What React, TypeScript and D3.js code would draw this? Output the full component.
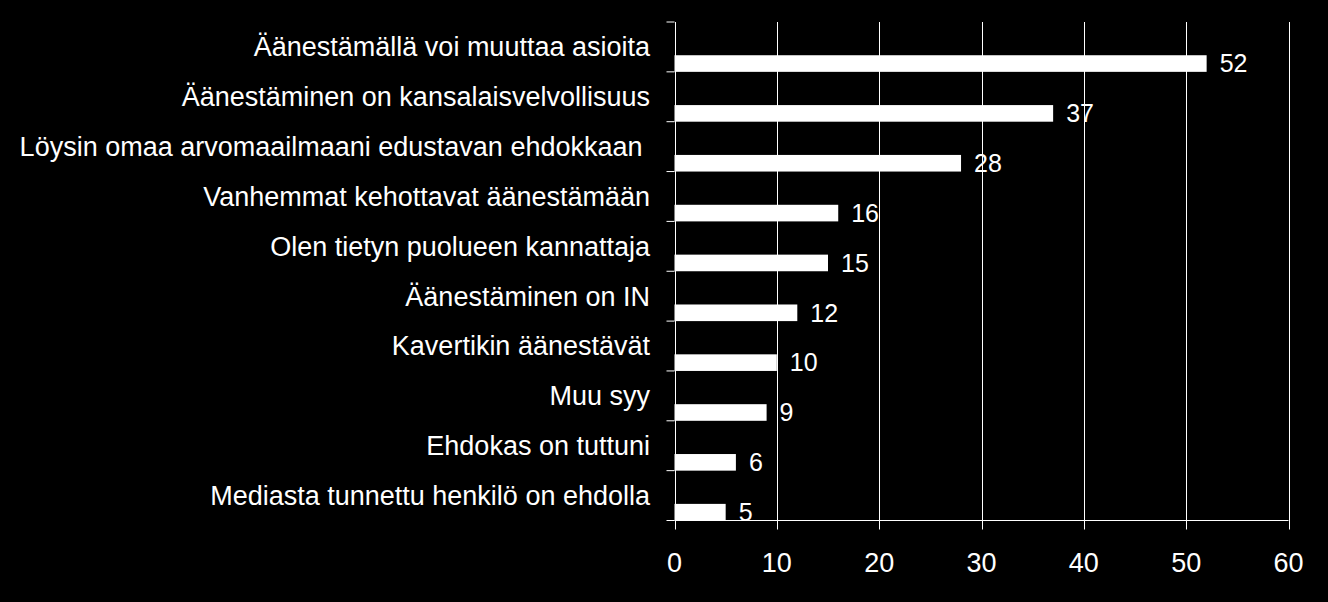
import React from "react";
import * as d3 from "d3";

const categories = [
  "Äänestämällä voi muuttaa asioita",
  "Äänestäminen on kansalaisvelvollisuus",
  "Löysin omaa arvomaailmaani edustavan ehdokkaan\u00a0",
  "Vanhemmat kehottavat äänestämään",
  "Olen tietyn puolueen kannattaja",
  "Äänestäminen on IN",
  "Kavertikin äänestävät",
  "Muu syy",
  "Ehdokas on tuttuni",
  "Mediasta tunnettu henkilö on ehdolla",
];
const values = [52, 37, 28, 16, 15, 12, 10, 9, 6, 5];
const xTicks = [0, 10, 20, 30, 40, 50, 60];

const W = 1328;
const H = 602;
const left = 674.5;
const right = 1288.5;
const top = 22;
const bottom = 520.5;
const FONT = "'Liberation Sans', Arial, sans-serif";

export default function App() {
  const x = d3.scaleLinear().domain([0, 60]).range([left, right]);
  const y = d3.scaleBand<string>().domain(categories).range([top, bottom]).padding(0);
  const bw = y.bandwidth();
  const barH = bw / 3;

  return (
    <svg
      width={W}
      height={H}
      style={{ position: "fixed", left: 0, top: 0, background: "#000" }}
      fontFamily={FONT}
    >
      <rect x={0} y={0} width={W} height={H} fill="#000" />
      {xTicks.map((t) => (
        <g key={t}>
          <line
            x1={Math.round(x(t)) + 0.5}
            x2={Math.round(x(t)) + 0.5}
            y1={top}
            y2={bottom + 9}
            stroke="#fff"
            strokeWidth={1}
          />
          <text
            x={x(t)}
            y={562.5}
            dy="0.35em"
            textAnchor="middle"
            fill="#fff"
            fontSize={27}
          >
            {t}
          </text>
        </g>
      ))}
      <line x1={left} x2={right} y1={bottom} y2={bottom} stroke="#fff" strokeWidth={1} />
      {d3.range(categories.length + 1).map((i) => {
        const yy = top + i * bw;
        return (
          <line key={i} x1={left - 8} x2={left} y1={yy} y2={yy} stroke="#fff" strokeWidth={1} />
        );
      })}
      {categories.map((c, i) => {
        const y0 = y(c)!;
        return (
          <g key={c}>
            <rect
              x={x(0)}
              y={y0 + bw - barH}
              width={x(values[i]) - x(0)}
              height={barH}
              fill="#fff"
            />
            <text
              x={x(values[i]) + 13}
              y={y0 + bw - barH / 2}
              dy="0.35em"
              fill="#fff"
              fontSize={25}
            >
              {values[i]}
            </text>
            <text
              x={650}
              y={y0 + bw / 2}
              dy="0.35em"
              textAnchor="end"
              fill="#fff"
              fontSize={27}
              style={{ whiteSpace: "pre" }}
            >
              {c}
            </text>
          </g>
        );
      })}
    </svg>
  );
}
